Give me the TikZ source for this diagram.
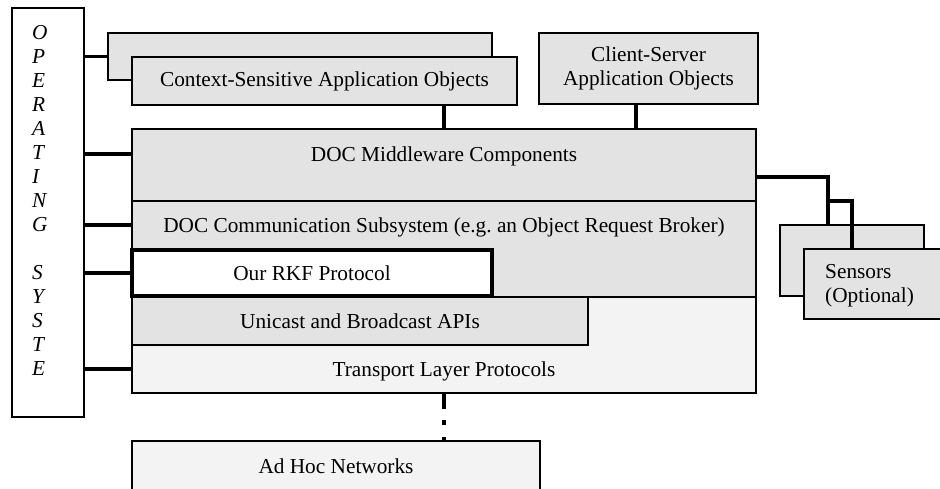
\documentclass[tikz,border=0pt]{standalone}
\usepackage{fontspec}
\setmainfont{Liberation Serif}
\usetikzlibrary{positioning}
\definecolor{boxgray}{HTML}{E3E3E3}
\definecolor{palegray}{HTML}{F3F3F3}
\begin{document}
\begin{tikzpicture}[x=1pt,y=-1pt,
    font=\fontsize{21.3}{24}\selectfont,
    layer/.style={draw, line width=1.2pt, fill=boxgray, inner sep=0pt, outer sep=0pt,
      anchor=north west, align=center},
    txt/.style={inner sep=0pt, text height=14pt, text depth=0pt},
    link/.style={line width=3.6pt}]
  \useasboundingbox (0,0) rectangle (940,488);
  % operating system column
  \node[layer, fill=white, minimum width=72, minimum height=409] (os) at (12,8) {};
  \node[anchor=north west, inner sep=0pt, align=left, font=\fontsize{21.3}{24}\selectfont\itshape]
    (osname) at (32,25) {O\\P\\E\\R\\A\\T\\I\\N\\G\\\mbox{}\\S\\Y\\S\\T\\E};
  % application objects
  \node[layer, minimum width=384, minimum height=47] (ctxback) at (108,33) {};
  \node[layer, minimum width=385, minimum height=48] (ctx) at (132,57)
    {Context-Sensitive Application Objects};
  \node[layer, minimum width=219, minimum height=71] (cs) at (539,33)
    {Client-Server\\Application Objects};
  % middleware stack
  \node[layer, minimum width=624, minimum height=72] (mw) at (132,129) {};
  \node[layer, minimum width=624, minimum height=96] (comm) at (132,201) {};
  \node[layer, fill=palegray, minimum width=624, minimum height=96] (tl) at (132,297) {};
  \node[layer, minimum width=456, minimum height=48] (uni) at (132,297)
    {Unicast and Broadcast APIs};
  \node[layer, fill=white, line width=4.5pt, minimum width=360, minimum height=46] (rkf) at (132,250)
    {Our RKF Protocol};
  \node[txt] (mwtext) at (444,154) {DOC Middleware Components};
  \node[txt] (commtext) at (444,225) {DOC Communication Subsystem (e.g.\ an Object Request Broker)};
  \node[txt] (tltext) at (444,369) {Transport Layer Protocols};
  % network
  \node[layer, fill=palegray, minimum width=408, minimum height=50] (adhoc) at (132,441)
    {Ad Hoc Networks};
  % sensors
  \node[layer, minimum width=144, minimum height=71] (sensback) at (780,225) {};
  \node[layer, minimum width=150, minimum height=70] (sens) at (804,249) {};
  \node[anchor=west, inner sep=0pt, align=left] (senstext) at (825,286) {Sensors\\(Optional)};
  % links to the operating system
  \draw[link] (os.east |- ctxback.west) -- (ctxback.west);
  \draw[link] (os.east |- mwtext) -- (mwtext -| mw.west);
  \draw[link] (os.east |- commtext) -- (commtext -| comm.west);
  \draw[link] (os.east |- rkf.west) -- (rkf.west);
  \draw[link] (os.east |- tltext) -- (tltext -| tl.west);
  % links between layers
  \coordinate (csfoot) at (636,0);
  \draw[link] (mw.north) -- (mw.north |- ctx.south);
  \draw[link] (csfoot |- cs.south) -- (csfoot |- mw.north);
  \draw[link, dash pattern=on 16pt off 11pt on 5pt off 12pt on 6pt] (tl.south) -- (tl.south |- adhoc.north);
  \coordinate (j1) at (828,177);
  \coordinate (j2) at (852,201);
  \draw[link] (mw.east |- j1) -- (j1) -- (j1 |- sensback.north);
  \draw[link] (j1 |- j2) -- (j2) -- (j2 |- sens.north);
\end{tikzpicture}
\end{document}
